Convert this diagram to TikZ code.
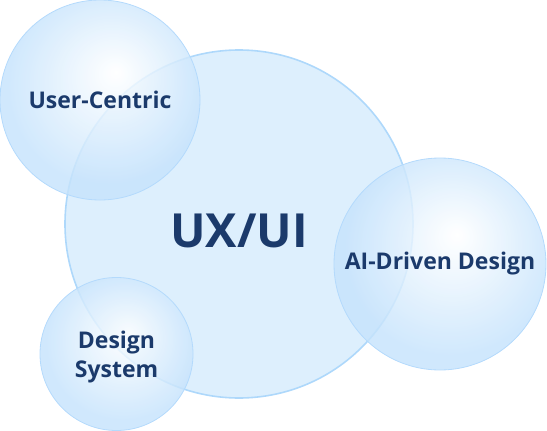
\documentclass[tikz,border=0pt]{standalone}
\usepackage{fontspec}
\setmainfont{Open Sans}
\definecolor{inkblue}{HTML}{1B3A6B}
\definecolor{corefill}{HTML}{DDEFFD}
\definecolor{coreline}{HTML}{AED8FB}
\definecolor{bubbleedge}{HTML}{C6E3FC}
\definecolor{bubbleline}{HTML}{B4DAFC}
\pgfdeclareradialshading{bubble}{\pgfpoint{4bp}{7bp}}{%
  color(0bp)=(white); color(25bp)=(bubbleedge); color(50bp)=(bubbleedge)}
\tikzset{
  core/.style={circle, draw=coreline, line width=1.6pt, fill=corefill,
    inner sep=0pt, text=inkblue, font=\bfseries\fontsize{47}{47}\selectfont},
  bubblenode/.style={circle, draw=bubbleline, line width=0.8pt, shading=bubble,
    fill opacity=0.82, text opacity=1, inner sep=0pt, text=inkblue, align=center,
    font=\bfseries\fontsize{23}{29}\selectfont}
}
\begin{document}
\begin{tikzpicture}[x=1pt, y=-1pt]
  \useasboundingbox (0,0) rectangle (547,431);

  %centre
  \node[core, minimum size=348pt, text height=46pt, text depth=0pt] (ux) at (239,224) {UX/UI};

  %satellites
  \node[bubblenode, minimum size=200pt] (user) at (100,100) {User-Centric};
  \node[bubblenode, minimum size=212pt] (ai) at (440,264) {AI-Driven Design};
  \node[bubblenode, minimum size=153pt] (sys) at (116.5,354)
    {\raisebox{0pt}[0pt][12pt]{\begin{tabular}[t]{@{}c@{}}Design\\System\end{tabular}}};
\end{tikzpicture}
\end{document}
